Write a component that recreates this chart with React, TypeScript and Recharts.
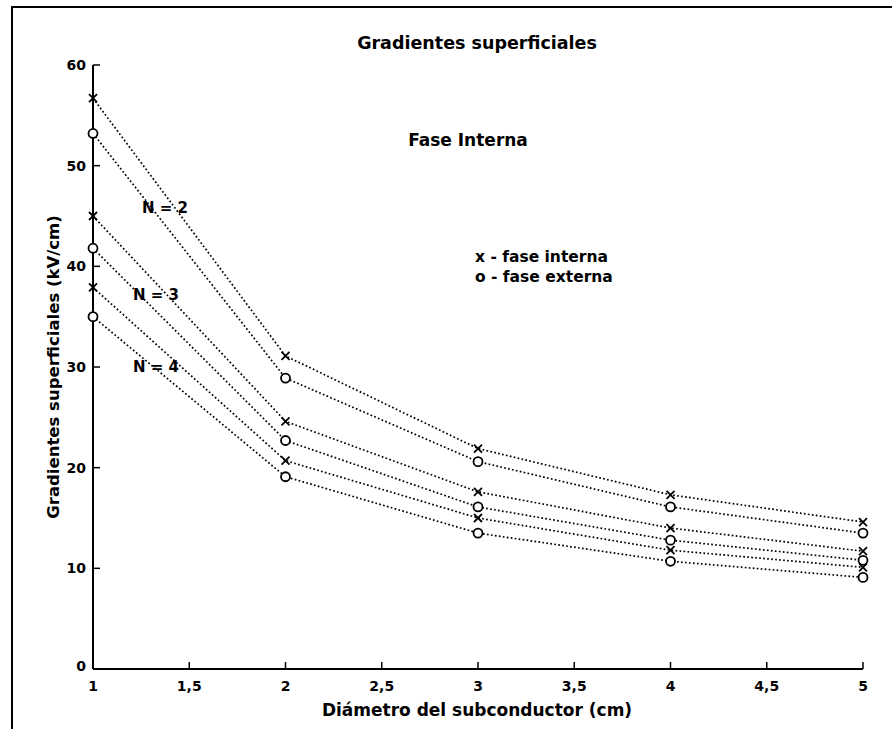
import React from "react";
import { LineChart, Line, XAxis, YAxis } from "recharts";

const diameter = [1, 2, 3, 4, 5];
const n2Interna = [56.7, 31.1, 21.9, 17.3, 14.6];
const n2Externa = [53.2, 28.9, 20.6, 16.1, 13.5];
const n3Interna = [45.0, 24.6, 17.6, 14.0, 11.7];
const n3Externa = [41.8, 22.7, 16.1, 12.8, 10.8];
const n4Interna = [37.9, 20.7, 15.0, 11.8, 10.1];
const n4Externa = [35.0, 19.1, 13.5, 10.7, 9.1];

const xTicks = [1, 1.5, 2, 2.5, 3, 3.5, 4, 4.5, 5];
const yTicks = [0, 10, 20, 30, 40, 50, 60];

const data = diameter.map((d, i) => ({
  d,
  n2i: n2Interna[i],
  n2e: n2Externa[i],
  n3i: n3Interna[i],
  n3e: n3Externa[i],
  n4i: n4Interna[i],
  n4e: n4Externa[i],
}));

const FONT = '"DejaVu Sans", "Liberation Sans", Arial, sans-serif';

const CrossDot = (props: any) => {
  const { cx, cy } = props;
  if (cx == null || cy == null) return null;
  const s = 4;
  return (
    <g>
      <line x1={cx - s} y1={cy - s} x2={cx + s} y2={cy + s} stroke="#000" strokeWidth={1.8} />
      <line x1={cx - s} y1={cy + s} x2={cx + s} y2={cy - s} stroke="#000" strokeWidth={1.8} />
    </g>
  );
};

const CircleDot = (props: any) => {
  const { cx, cy } = props;
  if (cx == null || cy == null) return null;
  return <circle cx={cx} cy={cy} r={4.5} fill="#fff" stroke="#000" strokeWidth={1.8} />;
};

const XTick = (props: any) => {
  const { x, y, payload } = props;
  return (
    <g>
      <line x1={x} y1={y} x2={x} y2={y - 7} stroke="#000" strokeWidth={1.5} />
      <text x={x} y={y + 17} textAnchor="middle" dominantBaseline="central" fontFamily={FONT} fontWeight="bold" fontSize={14} fill="#000">
        {String(payload.value).replace(".", ",")}
      </text>
    </g>
  );
};

const YTick = (props: any) => {
  const { x, y, payload } = props;
  return (
    <g>
      <line x1={x} y1={y} x2={x + 7} y2={y} stroke="#000" strokeWidth={1.5} />
      <text x={x - 7} y={payload.value === 0 ? y - 3 : y} textAnchor="end" dominantBaseline="central" fontFamily={FONT} fontWeight="bold" fontSize={14} fill="#000">
        {payload.value}
      </text>
    </g>
  );
};

const series = [
  { key: "n2i", dot: CrossDot },
  { key: "n2e", dot: CircleDot },
  { key: "n3i", dot: CrossDot },
  { key: "n3e", dot: CircleDot },
  { key: "n4i", dot: CrossDot },
  { key: "n4e", dot: CircleDot },
];

const labelStyle = { fontFamily: FONT, fontWeight: "bold" as const, fill: "#000" };

export default function App() {
  return (
    <div style={{ position: "absolute", left: 0, top: 0, width: 892, height: 729, background: "#fff", overflow: "hidden" }}>
      <div
        style={{
          position: "absolute",
          left: 11,
          top: 6,
          width: 900,
          height: 760,
          borderTop: "2px solid #000",
          borderLeft: "2px solid #000",
        }}
      />
      <LineChart
        width={892}
        height={729}
        data={data}
        margin={{ top: 65, right: 29, left: 0, bottom: 0 }}
        style={{ position: "absolute", left: 0, top: 0 }}
      >
        <XAxis
          dataKey="d"
          type="number"
          domain={[1, 5]}
          ticks={xTicks}
          height={60}
          tickSize={0}
          tickMargin={0}
          tickLine={false}
          tick={<XTick />}
          stroke="#000"
          strokeWidth={2}
          interval={0}
        />
        <YAxis
          type="number"
          domain={[0, 60]}
          ticks={yTicks}
          width={93}
          tickSize={0}
          tickMargin={0}
          tickLine={false}
          tick={<YTick />}
          stroke="#000"
          strokeWidth={2}
          interval={0}
        />
        {series.map((s) => {
          const D = s.dot;
          return (
            <Line
              key={s.key}
              dataKey={s.key}
              type="linear"
              stroke="#000"
              strokeWidth={1.7}
              strokeDasharray="1.7 2.3"
              dot={(p: any) => <D key={`${s.key}-${p.index}`} {...p} />}
              isAnimationActive={false}
            />
          );
        })}
      </LineChart>
      <svg width={892} height={729} style={{ position: "absolute", left: 0, top: 0, pointerEvents: "none" }}>
        <text x={477} y={43} textAnchor="middle" dominantBaseline="central" fontSize={17.5} {...labelStyle}>
          Gradientes superficiales
        </text>
        <text x={468} y={140} textAnchor="middle" dominantBaseline="central" fontSize={17} {...labelStyle}>
          Fase Interna
        </text>
        <text x={475} y={257} dominantBaseline="central" fontSize={15.5} {...labelStyle}>
          x - fase interna
        </text>
        <text x={475} y={277} dominantBaseline="central" fontSize={15.5} {...labelStyle}>
          o - fase externa
        </text>
        <text x={142} y={208} dominantBaseline="central" fontSize={15} {...labelStyle}>
          N = 2
        </text>
        <text x={133} y={295} dominantBaseline="central" fontSize={15} {...labelStyle}>
          N = 3
        </text>
        <text x={133} y={367} dominantBaseline="central" fontSize={15} {...labelStyle}>
          N = 4
        </text>
        <text x={477} y={710} textAnchor="middle" dominantBaseline="central" fontSize={17} {...labelStyle}>
          Diámetro del subconductor (cm)
        </text>
        <text
          x={53}
          y={367}
          textAnchor="middle"
          dominantBaseline="central"
          fontSize={16.5}
          transform="rotate(-90 53 367)"
          {...labelStyle}
        >
          Gradientes superficiales (kV/cm)
        </text>
      </svg>
    </div>
  );
}
